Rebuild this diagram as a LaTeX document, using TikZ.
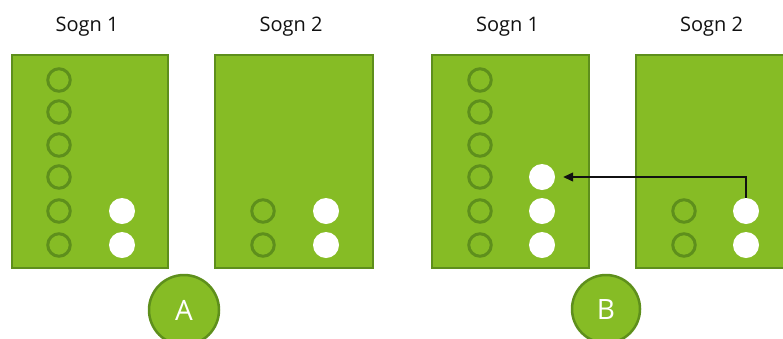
\documentclass[tikz,border=0pt]{standalone}
\usepackage{fontspec}
\setmainfont{Open Sans}
\usetikzlibrary{arrows.meta,positioning}
\definecolor{Leaf}{HTML}{86BC25}
\definecolor{Moss}{HTML}{5E8F1C}
\definecolor{Ink}{HTML}{111111}
\tikzset{
  parish/.style={
    rectangle, draw=Moss, line width=2.5pt, fill=Leaf,
    minimum width=156pt, minimum height=213pt, inner sep=0pt
  },
  slot/.style={
    circle, draw=Moss, line width=3pt, minimum size=22.5pt, inner sep=0pt
  },
  seat/.style={
    circle, fill=white, minimum size=26pt, inner sep=0pt
  },
  heading/.style={font=\fontsize{20}{22}\selectfont, text=Ink, inner sep=0pt},
  badge/.style={
    circle, draw=Moss, line width=2.5pt, fill=Leaf, text=white,
    minimum size=68pt, inner sep=0pt, font=\fontsize{28}{32}\selectfont
  },
  moveflow/.style={-{Triangle[length=10pt,width=9pt]}, line width=1.2pt, draw=Ink}
}
\begin{document}
\begin{tikzpicture}[x=1pt,y=-1pt]
    \useasboundingbox (0,0) rectangle (783,338);
    \clip (0,0) rectangle (783,338);
    % situation A
    \node[parish] (a1) at (90,161.5) {};
    \node[parish,minimum width=158pt] (a2) at (294,161.5) {};
    \node[heading,above=17pt of a1,xshift=-3pt] (ta1) {Sogn 1};
    \node[heading,above=17pt of a2,xshift=-3pt] (ta2) {Sogn 2};
    \node[slot] (a1s1) at (59,80) {};
    \node[slot] (a1s2) at (59,112) {};
    \node[slot] (a1s3) at (59,145) {};
    \node[slot] (a1s4) at (59,177) {};
    \node[slot] (a1s5) at (59,211) {};
    \node[slot] (a1s6) at (59,245) {};
    \node[seat] (a1w1) at (122,211) {};
    \node[seat] (a1w2) at (122,245) {};
    \node[slot] (a2s1) at (263,211) {};
    \node[slot] (a2s2) at (263,245) {};
    \node[seat] (a2w1) at (326,211) {};
    \node[seat] (a2w2) at (326,245) {};
    \node[badge,minimum size=70pt] (ba) at (184,310) {A};
    % situation B
    \node[parish,minimum width=157pt] (b1) at (510.5,161.5) {};
    \node[parish,minimum width=157pt] (b2) at (714.5,161.5) {};
    \node[heading,above=17pt of b1,xshift=-3pt] (tb1) {Sogn 1};
    \node[heading,above=17pt of b2,xshift=-3pt] (tb2) {Sogn 2};
    \node[slot] (b1s1) at (480,80) {};
    \node[slot] (b1s2) at (480,112) {};
    \node[slot] (b1s3) at (480,145) {};
    \node[slot] (b1s4) at (480,177) {};
    \node[slot] (b1s5) at (480,211) {};
    \node[slot] (b1s6) at (480,245) {};
    \node[seat] (b1w1) at (542,177) {};
    \node[seat] (b1w2) at (542,211) {};
    \node[seat] (b1w3) at (542,245) {};
    \node[slot] (b2s1) at (684,211) {};
    \node[slot] (b2s2) at (684,245) {};
    \node[seat] (b2w1) at (746,211) {};
    \node[seat] (b2w2) at (746,245) {};
    \node[badge] (bb) at (606,309) {B};
    \draw[moveflow,shorten >=8pt] (b2w1) |- (b1w1);
  \end{tikzpicture}
\end{document}
